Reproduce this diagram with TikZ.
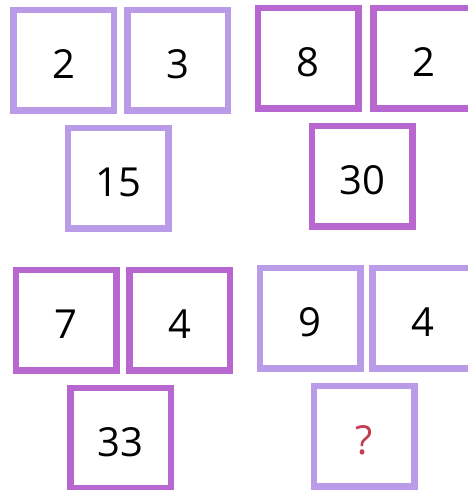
\documentclass[tikz,border=0pt]{standalone}
\usepackage{fontspec}
\setmainfont{Open Sans}
\definecolor{lightpurple}{RGB}{185,155,232}
\definecolor{darkpurple}{RGB}{183,103,207}
\definecolor{qred}{RGB}{196,62,82}
\tikzset{
  tile/.style={draw, line width=6.5pt, minimum width=100.5pt, minimum height=100.5pt, inner sep=0pt, fill=white},
  lighttile/.style={tile, draw=lightpurple},
  darktile/.style={tile, draw=darkpurple},
  num/.style={inner sep=0pt, font=\fontsize{40}{48}\selectfont, text=black},
}
\begin{document}
\begin{tikzpicture}[x=1pt,y=1pt]
\useasboundingbox (0,0) rectangle (468,490);
\clip (0,0) rectangle (468,490);
\fill[white] (0,0) rectangle (468,490);
% group 1 (light)
\node[lighttile] (a) at (63.5,429.5) {};
\node[lighttile] (b) at (177.5,429.5) {};
\node[lighttile] (c) at (118,311.5) {};
% group 2 (dark)
\node[darktile] (d) at (308,431.5) {};
\node[darktile] (e) at (423.5,431.5) {};
\node[darktile] (f) at (362,313.5) {};
% group 3 (dark)
\node[darktile] (g) at (66,169.5) {};
\node[darktile] (h) at (179.5,169.5) {};
\node[darktile] (i) at (120.5,51.5) {};
% group 4 (light)
\node[lighttile] (j) at (310,171.5) {};
\node[lighttile] (k) at (422.5,171.5) {};
\node[lighttile] (l) at (364,53.5) {};
% numbers
\node[num] (ta) at ([yshift=-4pt]a.center) {2};
\node[num] (tb) at ([yshift=-4pt]b.center) {3};
\node[num] (tc) at ([yshift=-4pt]c.center) {15};
\node[num] (td) at ([yshift=-4pt]d.center) {8};
\node[num] (te) at ([yshift=-4pt]e.center) {2};
\node[num] (tf) at ([yshift=-4pt]f.center) {30};
\node[num] (tg) at ([yshift=-4pt]g.center) {7};
\node[num] (th) at ([yshift=-4pt]h.center) {4};
\node[num] (ti) at ([yshift=-4pt]i.center) {33};
\node[num] (tj) at ([yshift=-4pt]j.center) {9};
\node[num] (tk) at ([yshift=-4pt]k.center) {4};
\node[num, text=qred] (tl) at ([yshift=-4pt]l.center) {?};
\end{tikzpicture}
\end{document}
